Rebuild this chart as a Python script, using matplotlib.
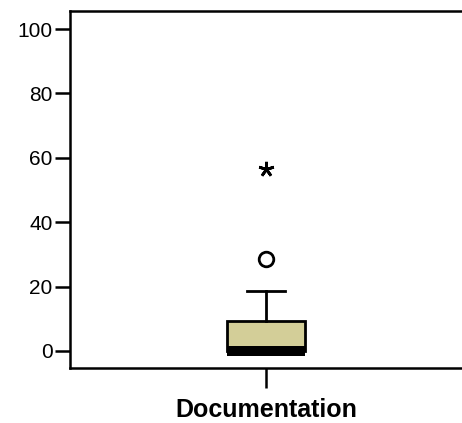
import matplotlib
matplotlib.use("Agg")
import matplotlib.pyplot as plt

plt.rcParams['font.family'] = ['Liberation Sans', 'DejaVu Sans']

category = "Documentation"
q1, median, q3 = 0.0, 0.0, 9.3
whisker_low, whisker_high = 0.0, 18.7
outliers = [28.5]
extremes = [56.5]
yticks = [0, 20, 40, 60, 80, 100]

fig = plt.figure(figsize=(4.62, 4.23), dpi=100)
ax = fig.add_axes([0.1515, 0.130, 0.8485, 0.844])

stats = [dict(med=median, q1=q1, q3=q3, whislo=whisker_low, whishi=whisker_high,
              fliers=outliers, label=category)]
ax.bxp(stats, positions=[1.0], widths=0.393, capwidths=[0.194], patch_artist=True,
       boxprops=dict(facecolor='#D3CE98', edgecolor='black', linewidth=2.0),
       medianprops=dict(color='black', linewidth=7.2, solid_capstyle='butt'),
       whiskerprops=dict(color='black', linewidth=2.0),
       capprops=dict(color='black', linewidth=2.0),
       flierprops=dict(marker='o', markerfacecolor='white', markeredgecolor='black',
                       markersize=10.5, markeredgewidth=2.0))
ax.plot([1.0] * len(extremes), extremes, linestyle='none', marker=(5, 2, 0),
        markersize=11, markeredgewidth=2.0, color='black')

ax.set_xlim(0, 2)
ax.set_ylim(-5.3, 105.6)
ax.set_yticks(yticks)
ax.set_yticklabels([str(t) for t in yticks])
ax.set_xticks([1.0])
ax.set_xticklabels([category], fontsize=18, fontweight='bold')
ax.tick_params(axis='y', labelsize=15, length=10.5, width=1.8, pad=2)
ax.tick_params(axis='x', length=14.5, width=1.8, pad=7)
for s in ['left', 'top', 'bottom']:
    ax.spines[s].set_linewidth(1.8)
ax.spines['right'].set_visible(False)

fig.savefig("out.png", dpi=100)
